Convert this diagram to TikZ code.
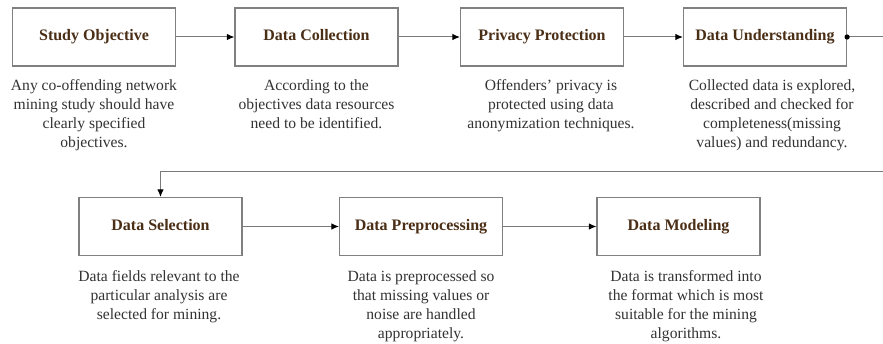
\documentclass[tikz,border=0pt]{standalone}
\usepackage{fontspec}
\setmainfont{Liberation Serif}
\usetikzlibrary{arrows.meta}
\definecolor{titlebrown}{HTML}{4A2E16}
\definecolor{desctext}{HTML}{333333}
\definecolor{framegray}{HTML}{808080}
\definecolor{linegray}{HTML}{7A7A7A}
\tikzset{
  stagebox/.style={draw=framegray, line width=1.2pt, fill=white,
    minimum width=163pt, minimum height=58pt, inner sep=0pt,
    text height=11pt, text depth=3.5pt,
    font=\fontsize{16}{19}\selectfont\bfseries, text=titlebrown},
  stagedesc/.style={anchor=north, align=center, inner sep=0pt,
    font=\fontsize{15.6}{19}\selectfont, text=desctext},
  flow/.style={draw=linegray, line width=1pt,
    -{Latex[length=7.5pt,width=6.5pt,black]}},
}
\begin{document}
\begin{tikzpicture}[x=1pt,y=-1pt]
\useasboundingbox[fill=white] (0,0) rectangle (883,344);

% top row of stages
\node[stagebox] (so) at (94,37) {Study Objective};
\node[stagebox] (dc) at (316.5,37) {Data Collection};
\node[stagebox] (pp) at (542,37) {Privacy Protection};
\node[stagebox] (du) at (765,37) {Data Understanding};

% bottom row of stages
\node[stagebox] (ds) at (160.5,226.5) {Data Selection};
\node[stagebox] (dp) at (421,226.5) {Data Preprocessing};
\node[stagebox] (dm) at (678.5,226.5) {Data Modeling};

% descriptions under each stage
\node[stagedesc] (sod) at (94,79) {Any co-offending network\\mining study should have\\clearly specified\\objectives.};
\node[stagedesc] (dcd) at (316.5,79) {According to the\\objectives data resources\\need to be identified.};
\node[stagedesc] (ppd) at (551,79) {Offenders' privacy is\\protected using data\\anonymization techniques.};
\node[stagedesc] (dud) at (772,79) {Collected data is explored,\\described and checked for\\completeness(missing\\values) and redundancy.};
\node[stagedesc] (dsd) at (159,270) {Data fields relevant to the\\particular analysis are\\selected for mining.};
\node[stagedesc] (dpd) at (421,270) {Data is preprocessed so\\that missing values or\\noise are handled\\appropriately.};
\node[stagedesc] (dmd) at (686,270) {Data is transformed into\\the format which is most\\suitable for the mining\\algorithms.};

% connectors
\draw[flow] (so) -- (dc);
\draw[flow] (dc) -- (pp);
\draw[flow] (pp) -- (du);
\coordinate (edgeA) at (883,37);
\coordinate (edgeB) at (883,172);
\coordinate (turn) at (160.5,172);
\draw[draw=linegray, line width=1pt] (du.east) -- (edgeA);
\fill[black] (du.east) circle (2.6pt);
\draw[flow] (edgeB) -- (turn) -- (ds.north);
\draw[flow] (ds) -- (dp);
\draw[flow] (dp) -- (dm);
\end{tikzpicture}
\end{document}
